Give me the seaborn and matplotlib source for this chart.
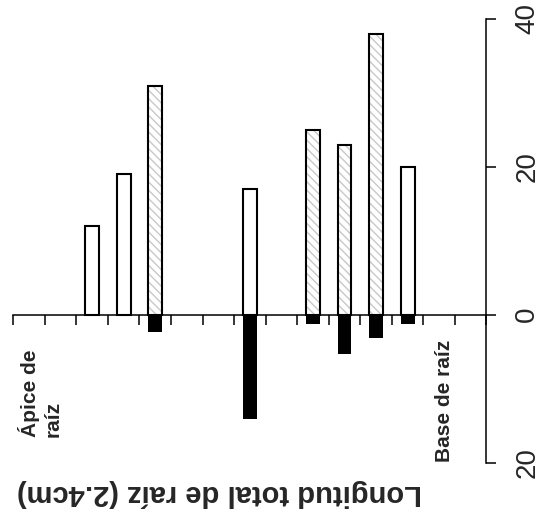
import numpy as np
import pandas as pd
import matplotlib
matplotlib.use("Agg")
import matplotlib.pyplot as plt
import seaborn as sns

# ---- data ----
slots = [str(i) for i in range(15)]
upper_values = [np.nan, np.nan, 12, 19, 31, np.nan, np.nan, 17, np.nan, 25, 23, 38, 20, np.nan, np.nan]
upper_style = ["", "", "open", "open", "hatched", "", "", "open", "", "hatched", "hatched", "hatched", "open", "", ""]
lower_values = [np.nan, np.nan, np.nan, np.nan, -2.3, np.nan, np.nan, -14.1, np.nan, -1.2, -5.3, -3.2, -1.2, np.nan, np.nan]
y_ticks = [-20, 0, 20, 40]
y_ticklabels = ["20", "0", "20", "40"]
title_text = "Longitud total de raíz (2.4cm)"
left_label = "Ápice de\nraíz"
right_label = "Base de raíz"

df = pd.DataFrame({"slot": slots, "upper": upper_values, "style": upper_style, "lower": lower_values})
df_open = df[df["style"] == "open"]
df_hatch = df[df["style"] == "hatched"]
df_low = df.dropna(subset=["lower"])

sns.set_style("white")
plt.rcParams["font.family"] = ["Liberation Sans", "DejaVu Sans"]
plt.rcParams["hatch.linewidth"] = 1.0

fig = plt.figure(figsize=(5.48, 5.19), dpi=100)
W, H = 548, 519
ax = fig.add_axes([13.3 / W, (H - 462.5) / H, 473.2 / W, 443.5 / H])

bw = 0.44
sns.barplot(data=df_open, x="slot", y="upper", order=slots, width=bw, color="white",
            edgecolor="black", linewidth=1.5, saturation=1, errorbar=None, ax=ax, zorder=2)
sns.barplot(data=df_hatch, x="slot", y="upper", order=slots, width=bw, color="white",
            edgecolor="#c8c8c8", linewidth=0, hatch="\\\\\\\\", saturation=1, errorbar=None, ax=ax, zorder=2)
sns.barplot(data=df_hatch, x="slot", y="upper", order=slots, width=bw, fill=False,
            edgecolor="black", linewidth=1.5, saturation=1, errorbar=None, ax=ax, zorder=3)
sns.barplot(data=df_low, x="slot", y="lower", order=slots, width=bw, color="black",
            edgecolor="black", linewidth=0, saturation=1, errorbar=None, ax=ax, zorder=2)

ax.set_xlim(-0.5, len(slots) - 0.5)
ax.set_ylim(-20, 40)
ax.set_xlabel("")
ax.set_ylabel("")

for s in ["top", "left"]:
    ax.spines[s].set_visible(False)
ax.spines["bottom"].set_position(("data", 0))
ax.spines["bottom"].set_linewidth(1.1)
ax.spines["right"].set_linewidth(1.1)
ax.spines["bottom"].set_color("black")
ax.spines["right"].set_color("black")

ax.set_xticks(np.arange(len(slots) + 1) - 0.5)
ax.set_xticklabels([])
ax.tick_params(axis="x", direction="out", length=7, width=1.1, color="black", bottom=True)

ax.yaxis.tick_right()
ax.set_yticks(y_ticks)
ax.set_yticklabels(y_ticklabels)
ax.tick_params(axis="y", direction="out", length=7, width=1.1, color="black", right=True,
               labelsize=20, pad=13, labelrotation=90)
for lbl in ax.get_yticklabels():
    lbl.set_va("center")

fig.text(40 / W, (H - 437) / H, left_label, rotation=90, ha="center", va="bottom",
         fontsize=15, fontweight="bold", multialignment="left", linespacing=1.25)
fig.text(445 / W, (H - 462) / H, right_label, rotation=90, ha="center", va="bottom",
         fontsize=15, fontweight="bold")
fig.text(219 / W, (H - 493) / H, title_text, rotation=180, ha="center", va="center",
         fontsize=21, fontweight="bold")

fig.savefig("out.png", dpi=100)
